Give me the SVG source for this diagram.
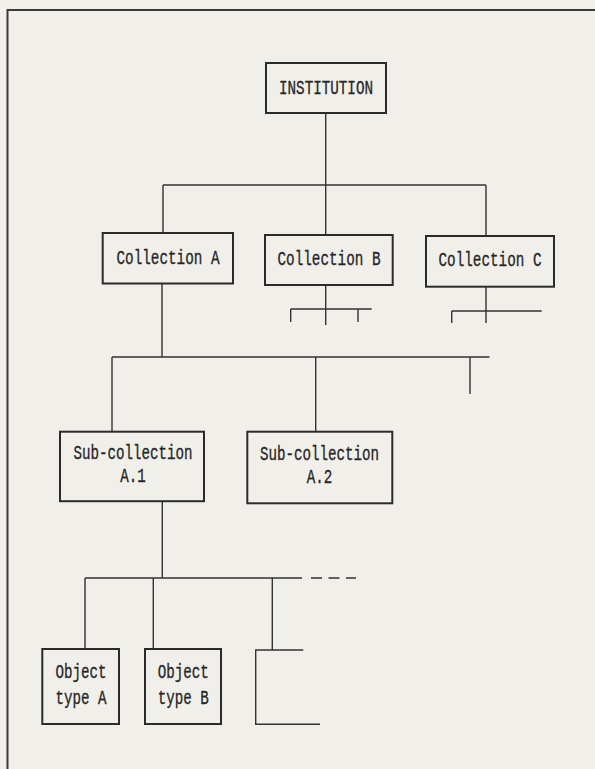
<svg xmlns="http://www.w3.org/2000/svg" width="595" height="769" viewBox="0 0 595 769">
<style>
.bg{fill:#f1efea}
.box{fill:none;stroke:#2b2b2b;stroke-width:2}
.ln{fill:none;stroke:#333;stroke-width:1.4}
.frame{fill:none;stroke:#3a3a3a;stroke-width:2}
.t{font-family:"Liberation Mono","DejaVu Sans Mono",monospace;font-size:21px;fill:#262626;stroke:#262626;stroke-width:0.35;text-anchor:middle}
</style>
<rect class="bg" x="0" y="0" width="595" height="769"/>
<g id="frame">
<path class="frame" d="M7.5,769 V10 H595"/>
</g>
<g id="connectors">
<path class="ln" d="M325.7,113 V185 M163,185 H486 M163,185 V233 M325.7,185 V235 M486,185 V236"/>
<path class="ln" d="M325.7,285 V325 M290.7,309 H371.7 M290.7,309 V322 M358,309 V322"/>
<path class="ln" d="M486,287 V323 M451.7,311 H541.7 M451.7,311 V323"/>
<path class="ln" d="M162,283 V357 M112,357 H489.5 M112,357 V431.7 M315.7,357 V431.7 M470,357 V394"/>
<path class="ln" d="M162.3,501 V578 M85,578 H302 M85,578 V649 M153.3,578 V649 M272.3,578 V650"/>
<path class="ln" d="M311,578 H356" stroke-dasharray="11 6.5"/>
<path class="ln" d="M303.3,650 H255.7 V724.3 H320"/>
</g>
<g id="institution">
<rect class="box" x="266" y="63" width="120" height="50"/>
<text class="t" x="326" y="94" textLength="94" lengthAdjust="spacingAndGlyphs">INSTITUTION</text>
</g>
<g id="collection-a">
<rect class="box" x="102.7" y="233" width="130.3" height="50.5"/>
<text class="t" x="168" y="264" textLength="103" lengthAdjust="spacingAndGlyphs">Collection A</text>
</g>
<g id="collection-b">
<rect class="box" x="265" y="235" width="127.7" height="50"/>
<text class="t" x="329" y="264.5" textLength="103" lengthAdjust="spacingAndGlyphs">Collection B</text>
</g>
<g id="collection-c">
<rect class="box" x="426" y="236" width="128" height="50.7"/>
<text class="t" x="490" y="266" textLength="103" lengthAdjust="spacingAndGlyphs">Collection C</text>
</g>
<g id="sub-collection-a1">
<rect class="box" x="60" y="431.7" width="144" height="69.5"/>
<text class="t" x="133" y="459" textLength="119" lengthAdjust="spacingAndGlyphs">Sub-collection</text>
<text class="t" x="133" y="481.5" textLength="25.5" lengthAdjust="spacingAndGlyphs">A.1</text>
</g>
<g id="sub-collection-a2">
<rect class="box" x="247.3" y="431.7" width="145" height="71.6"/>
<text class="t" x="319.5" y="460" textLength="119" lengthAdjust="spacingAndGlyphs">Sub-collection</text>
<text class="t" x="319.5" y="482.5" textLength="25.5" lengthAdjust="spacingAndGlyphs">A.2</text>
</g>
<g id="object-type-a">
<rect class="box" x="42.3" y="649" width="76.7" height="75"/>
<text class="t" x="81" y="678" textLength="51" lengthAdjust="spacingAndGlyphs">Object</text>
<text class="t" x="81" y="704" textLength="51" lengthAdjust="spacingAndGlyphs">type A</text>
</g>
<g id="object-type-b">
<rect class="box" x="145" y="649" width="76" height="75"/>
<text class="t" x="183.3" y="678" textLength="51" lengthAdjust="spacingAndGlyphs">Object</text>
<text class="t" x="183.3" y="704" textLength="51" lengthAdjust="spacingAndGlyphs">type B</text>
</g>
</svg>
